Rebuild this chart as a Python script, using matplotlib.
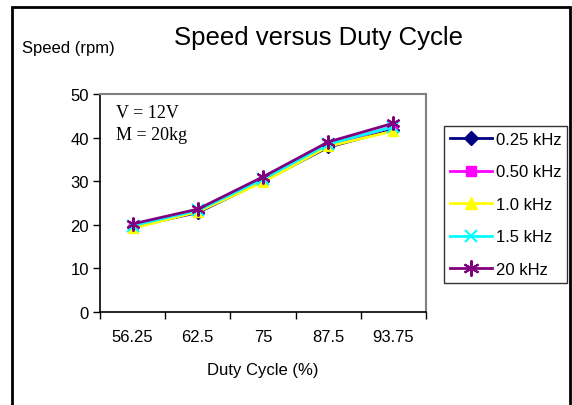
import numpy as np
import matplotlib
matplotlib.use("Agg")
import matplotlib.pyplot as plt
from matplotlib.patches import Rectangle

plt.rcParams["font.family"] = ["Liberation Sans", "DejaVu Sans"]

# data
duty = ["56.25", "62.5", "75", "87.5", "93.75"]
f025 = [19.5, 22.8, 30.0, 37.8, 41.8]
f050 = [19.8, 23.0, 30.5, 38.3, 42.5]
f10 = [19.2, 23.0, 29.8, 38.0, 41.5]
f15 = [19.8, 23.3, 30.5, 38.5, 42.5]
f20 = [20.2, 23.6, 31.0, 39.0, 43.3]
labels = ["0.25 kHz", "0.50 kHz", "1.0 kHz", "1.5 kHz", "20 kHz"]

W, H = 572, 406
fig = plt.figure(figsize=(W / 100, H / 100), dpi=100)
ax = fig.add_axes([100 / W, 1 - 313 / H, 326 / W, 218 / H])

x = np.arange(len(duty)) + 0.5
styles = [
    ("#000080", "D", 6),
    ("#FF00FF", "s", 6),
    ("#FFFF00", "^", 7),
    ("#00FFFF", "x", 8),
    ("#800080", (6, 2, 0), 10),
]
for vals, lab, (c, m, ms) in zip([f025, f050, f10, f15, f20], labels, styles):
    ax.plot(x, vals, color=c, marker=m, markersize=ms, lw=2,
            markeredgewidth=1.5 if m in ("x", (6, 2, 0)) else 1,
            label=lab, clip_on=False)

ax.set_xlim(0, len(duty))
ax.set_ylim(0, 50)
ax.set_yticks(range(0, 51, 10))
ax.set_xticks(range(len(duty) + 1))
ax.set_xticklabels([])
ax.set_xticks(x, minor=True)
ax.set_xticklabels(duty, minor=True)
ax.tick_params(axis="x", which="major", direction="out", length=5, width=1)
ax.tick_params(axis="x", which="minor", length=0, pad=12, labelsize=12)
ax.tick_params(axis="y", direction="out", length=5, width=1, labelsize=12, pad=3)
for s in ("top", "right"):
    ax.spines[s].set_color("#808080")
    ax.spines[s].set_linewidth(1.5)
for s in ("left", "bottom"):
    ax.spines[s].set_linewidth(1.2)

ax.set_xlabel("Duty Cycle (%)", fontsize=12, labelpad=13)
ax.text(0.05, 0.955, "V = 12V\nM = 20kg", transform=ax.transAxes, va="top",
        family=["Liberation Serif", "DejaVu Serif"], fontsize=13, linespacing=1.4)

fig.text(319 / W, 1 - 38 / H, "Speed versus Duty Cycle", ha="center", va="center", fontsize=18.5)
fig.text(22 / W, 1 - 48 / H, "Speed (rpm)", ha="left", va="center", fontsize=12)

leg = fig.legend(loc="upper left", bbox_to_anchor=(444 / W, 1 - 127 / H),
                 fontsize=12, frameon=True, fancybox=False, edgecolor="black",
                 handlelength=2.5, handletextpad=0.25, labelspacing=1.05,
                 borderpad=0.35, borderaxespad=0, markerscale=1.15)
leg.get_frame().set_linewidth(1.0)

fig.patches.append(Rectangle((12 / W, -0.1), (570 - 12) / W, 1.1 - 8 / H,
                             transform=fig.transFigure, fill=False,
                             edgecolor="black", lw=2, zorder=10))

fig.savefig("out.png", dpi=100)
